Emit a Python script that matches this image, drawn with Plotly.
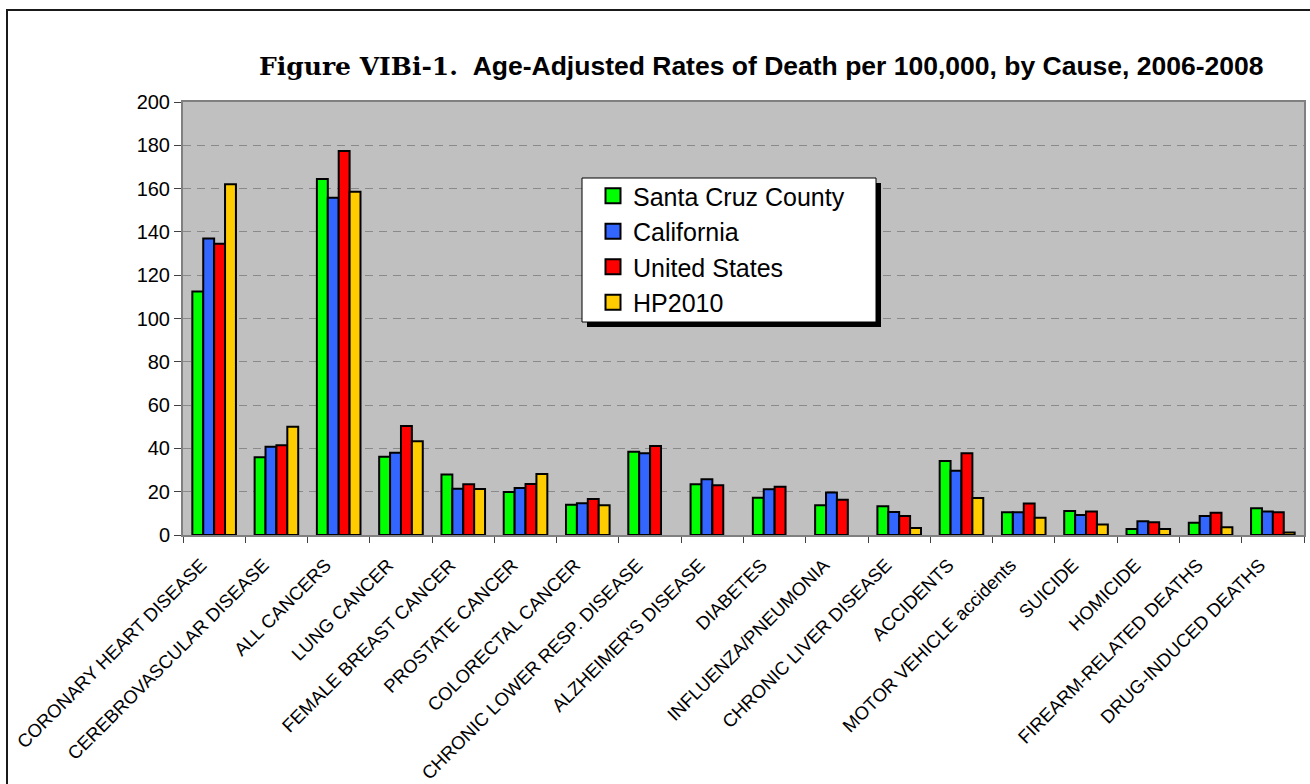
import plotly.graph_objects as go

# Causes of death (x categories)
causes = [
    "CORONARY HEART DISEASE", "CEREBROVASCULAR DISEASE", "ALL CANCERS",
    "LUNG CANCER", "FEMALE BREAST CANCER", "PROSTATE CANCER",
    "COLORECTAL CANCER", "CHRONIC LOWER RESP. DISEASE", "ALZHEIMER'S DISEASE",
    "DIABETES", "INFLUENZA/PNEUMONIA", "CHRONIC LIVER DISEASE", "ACCIDENTS",
    "MOTOR VEHICLE accidents", "SUICIDE", "HOMICIDE", "FIREARM-RELATED DEATHS",
    "DRUG-INDUCED DEATHS",
]

# Age-adjusted death rates per 100,000
santa_cruz = [112.5, 35.9, 164.4, 36.2, 27.9, 19.9, 14.0, 38.4, 23.4, 17.2, 13.7, 13.3, 34.2, 10.5, 11.1, 2.8, 5.7, 12.3]
california = [137.0, 40.8, 155.8, 38.0, 21.4, 21.7, 14.7, 37.8, 25.7, 21.1, 19.6, 10.6, 29.7, 10.5, 9.2, 6.3, 8.8, 10.8]
united_states = [134.5, 41.5, 177.4, 50.4, 23.4, 23.6, 16.6, 41.1, 23.0, 22.3, 16.3, 8.8, 37.8, 14.5, 10.8, 5.9, 10.3, 10.5]
hp2010 = [162.0, 50.0, 158.6, 43.3, 21.3, 28.2, 13.7, None, None, None, None, 3.2, 17.1, 8.0, 4.8, 2.8, 3.6, 1.2]

series_names = ["Santa Cruz County", "California", "United States", "HP2010"]
series_values = [santa_cruz, california, united_states, hp2010]
series_colors = ["#00FF00", "#3366FF", "#FF0000", "#FFCC00"]

y_ticks = list(range(0, 201, 20))

# Figure geometry (pixels)
W, H = 1310, 784
L, R, T, B = 183, 6, 102, 249
PW, PH = W - L - R, H - T - B


def px_x(px):
    return (px - L) / PW


def px_y(py):
    return (H - B - py) / PH


fig = go.Figure()
for name, vals, col in zip(series_names, series_values, series_colors):
    fig.add_trace(go.Bar(
        name=name, x=causes, y=vals, showlegend=False, legendgroup=name,
        marker=dict(color=col, line=dict(color="#000000", width=2)),
    ))

# Square swatches for the legend entries
for name, col in zip(series_names, series_colors):
    fig.add_trace(go.Scatter(
        name=name, x=[None], y=[None], mode="markers", legendgroup=name,
        marker=dict(symbol="square", size=15, color=col,
                    line=dict(color="#000000", width=2)),
    ))

shapes = [
    # outer frame
    dict(type="rect", xref="paper", yref="paper",
         x0=px_x(7), x1=px_x(1330), y0=px_y(800), y1=px_y(10),
         line=dict(color="#1a1a1a", width=2), fillcolor="rgba(0,0,0,0)", layer="below"),
    # legend shadow
    dict(type="rect", xref="paper", yref="paper",
         x0=px_x(587), x1=px_x(881), y0=px_y(327), y1=px_y(183),
         line=dict(width=0), fillcolor="#000000", layer="above"),
    # legend box
    dict(type="rect", xref="paper", yref="paper",
         x0=px_x(582), x1=px_x(876), y0=px_y(322), y1=px_y(178),
         line=dict(color="#000000", width=1), fillcolor="#FFFFFF", layer="above"),
]

title_text = (
    '<span style="font-family:\'DejaVu Serif\'; font-weight:bold; font-size:25px">Figure VIBi-1.</span>'
    '&nbsp;&nbsp;<b>Age-Adjusted Rates of Death per 100,000, by Cause, 2006-2008</b>'
)

fig.update_layout(
    template="none",
    width=W, height=H,
    margin=dict(l=L, r=R, t=T, b=B, pad=0),
    paper_bgcolor="#FFFFFF",
    plot_bgcolor="#C0C0C0",
    barmode="group",
    bargap=0.3,
    bargroupgap=0,
    font=dict(family="Liberation Sans, Arial, sans-serif", color="#000000"),
    showlegend=True,
    legend=dict(
        x=px_x(593), y=px_y(173), xanchor="left", yanchor="top",
        bgcolor="rgba(0,0,0,0)", borderwidth=0,
        font=dict(size=25, family="Liberation Sans, Arial, sans-serif"),
        traceorder="normal",
    ),
    shapes=shapes,
    annotations=[dict(
        text=title_text, xref="paper", yref="paper",
        x=px_x(761), y=px_y(66), xanchor="center", yanchor="middle",
        showarrow=False,
        font=dict(size=26.5, family="Liberation Sans, Arial, sans-serif", color="#000000"),
    )],
    xaxis=dict(
        type="category", tickangle=-45, automargin=False,
        tickfont=dict(size=18.5),
        ticklabelstandoff=10, ticklabelshift=-13,
        showline=True, linecolor="#808080", linewidth=2, mirror=True,
        ticks="outside", tickson="boundaries", ticklen=6, tickcolor="#404040",
        showgrid=False,
    ),
    yaxis=dict(
        range=[0, 200], tickvals=y_ticks, automargin=False,
        tickfont=dict(size=20),
        showline=True, linecolor="#808080", linewidth=2, mirror=True,
        ticks="outside", ticklen=7, tickcolor="#404040",
        showgrid=True, gridcolor="#8a8a8a", gridwidth=1, griddash="8px,6px",
        zeroline=False,
    ),
)

fig.write_html("out.html")
